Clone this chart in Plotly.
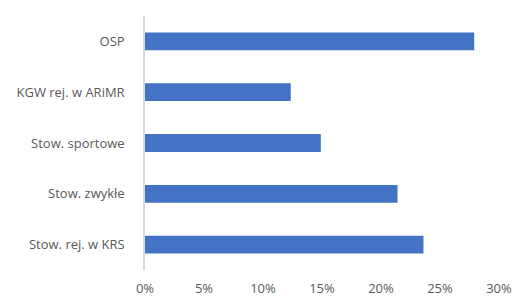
import plotly.graph_objects as go

categories = ["Stow. rej. w KRS", "Stow. zwykłe", "Stow. sportowe", "KGW rej. w ARiMR", "OSP"]
values = [23.6, 21.4, 14.9, 12.35, 27.9]
tick_vals = [0, 5, 10, 15, 20, 25, 30]
tick_text = ["0%", "5%", "10%", "15%", "20%", "25%", "30%"]

fig = go.Figure(go.Bar(
    y=categories, x=values, orientation="h",
    marker=dict(color="#4472C4", line=dict(width=0)),
))
fig.update_layout(
    width=514, height=296,
    margin=dict(l=145, r=15, t=16, b=26),
    paper_bgcolor="white", plot_bgcolor="white",
    bargap=0.65,
    showlegend=False,
    font=dict(family="Open Sans", size=13, color="#595959"),
)
fig.update_xaxes(
    range=[0, 30], tickvals=tick_vals, ticktext=tick_text,
    showgrid=False, zeroline=False, showline=False,
    ticks="outside", ticklen=6, tickcolor="rgba(0,0,0,0)",
    automargin=False, fixedrange=True,
)
fig.update_yaxes(
    showgrid=False, zeroline=False,
    showline=True, linecolor="#d9d9d9", linewidth=1.5,
    ticks="outside", ticklen=16, tickcolor="rgba(0,0,0,0)",
    automargin=False, fixedrange=True,
)
fig.write_html(
    "out.html",
    config={"displayModeBar": False},
    post_script="document.body.style.margin='0';document.body.style.overflow='hidden';",
)
